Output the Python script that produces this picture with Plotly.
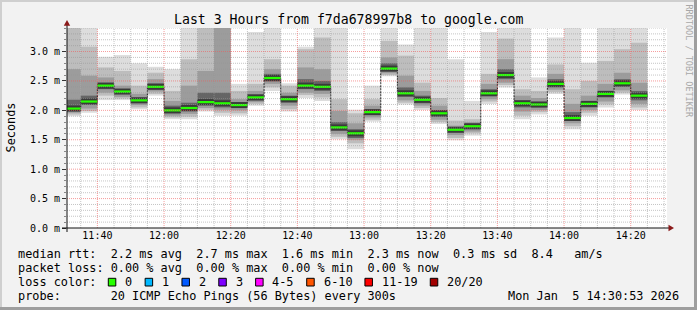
import plotly.graph_objects as go
import pandas as pd

# ---------------- data ----------------
bar_start = [pd.Timestamp("2026-01-05 11:30:00") + pd.Timedelta(minutes=5 * i) for i in range(35)]
median = [2.03, 2.15, 2.42, 2.32, 2.17, 2.40, 2.00, 2.04, 2.14, 2.12,
          2.09, 2.22, 2.55, 2.19, 2.42, 2.40, 1.71, 1.61, 1.97, 2.71,
          2.29, 2.18, 1.95, 1.67, 1.73, 2.29, 2.60, 2.12, 2.10, 2.45,
          1.87, 2.11, 2.28, 2.46, 2.25]
ping_min = [1.90, 1.96, 2.175, 2.175, 2.02, 2.25, 1.85, 1.85, 1.98, 1.91,
            1.91, 2.08, 2.33, 1.98, 2.21, 2.16, 1.51, 1.34, 1.81, 2.58,
            2.10, 2.005, 1.77, 1.49, 1.57, 2.11, 2.39, 1.85, 1.93, 2.28,
            1.68, 1.91, 2.05, 2.27, 2.005]
ping_max = [3.6, 3.6, 2.91, 2.94, 2.80, 2.74, 2.70, 3.6, 3.6, 3.6,
            2.45, 3.33, 3.6, 2.46, 3.08, 3.6, 3.6, 2.01, 2.42, 3.6,
            3.12, 3.6, 3.6, 2.87, 2.16, 3.33, 3.6, 3.6, 2.56, 3.24,
            3.6, 2.81, 3.6, 3.6, 3.6]
band2_lo = [1.93, 1.99, 2.25, 2.20, 2.05, 2.28, 1.88, 1.89, 2.01, 1.96,
            1.95, 2.11, 2.39, 2.02, 2.26, 2.22, 1.55, 1.44, 1.84, 2.60,
            2.13, 2.04, 1.80, 1.53, 1.61, 2.15, 2.43, 1.91, 1.97, 2.31,
            1.73, 1.96, 2.10, 2.30, 2.05]
band2_hi = [3.5, 3.08, 2.73, 2.67, 2.42, 2.64, 2.33, 2.87, 3.5, 3.5,
            2.33, 2.45, 2.87, 2.42, 3.04, 3.24, 2.19, 1.95, 2.19, 3.18,
            2.93, 2.47, 2.21, 1.825, 1.85, 2.62, 3.22, 2.36, 2.33, 2.78,
            2.36, 2.50, 2.84, 3.04, 3.15]
band3_lo = [1.96, 2.03, 2.30, 2.23, 2.09, 2.32, 1.91, 1.94, 2.04, 2.01,
            2.00, 2.14, 2.45, 2.08, 2.30, 2.28, 1.60, 1.50, 1.88, 2.63,
            2.17, 2.08, 1.84, 1.58, 1.64, 2.19, 2.47, 1.98, 2.005, 2.35,
            1.78, 2.005, 2.15, 2.34, 2.11]
band3_hi = [2.70, 2.59, 2.56, 2.42, 2.28, 2.53, 2.16, 2.42, 2.67, 3.5,
            2.19, 2.33, 2.70, 2.30, 2.73, 2.70, 1.99, 1.78, 2.08, 2.90,
            2.59, 2.33, 2.08, 1.74, 1.80, 2.45, 2.87, 2.25, 2.21, 2.62,
            2.11, 2.25, 2.45, 2.64, 2.47]
band4_lo = [2.00, 2.10, 2.36, 2.28, 2.13, 2.36, 1.95, 1.98, 2.08, 2.05,
            2.05, 2.17, 2.49, 2.13, 2.36, 2.33, 1.65, 1.53, 1.92, 2.66,
            2.23, 2.12, 1.89, 1.63, 1.68, 2.25, 2.53, 2.05, 2.05, 2.39,
            1.82, 2.05, 2.22, 2.40, 2.17]
band4_hi = [2.18, 2.25, 2.47, 2.36, 2.22, 2.46, 2.08, 2.13, 2.30, 2.30,
            2.13, 2.27, 2.62, 2.25, 2.53, 2.50, 1.80, 1.68, 2.01, 2.80,
            2.39, 2.25, 2.005, 1.70, 1.77, 2.36, 2.70, 2.17, 2.14, 2.53,
            1.97, 2.15, 2.33, 2.53, 2.33]
y_tick_vals = [0.0, 0.5, 1.0, 1.5, 2.0, 2.5, 3.0]
y_tick_text = ["0.0 m", "0.5 m", "1.0 m", "1.5 m", "2.0 m", "2.5 m", "3.0 m"]
loss_labels = ["0", "1", "2", "3", "4-5", "6-10", "11-19", "20/20"]
loss_colors = ["#26ff00", "#00b8ff", "#0059ff", "#7e00ff", "#ff00ff", "#ff5500", "#ff0000", "#a10000"]
legend_lines = [
    "median rtt:  2.2 ms avg  2.7 ms max  1.6 ms min  2.3 ms now  0.3 ms sd  8.4   am/s",
    "packet loss: 0.00 % avg  0.00 % max  0.00 % min  0.00 % now",
]
probe_text = "probe:       20 ICMP Echo Pings (56 Bytes) every 300s"
date_text = "Mon Jan  5 14:30:53 2026"
title_text = "Last 3 Hours from f7da678997b8 to google.com"

# ---------------- geometry helpers ----------------
W, H = 697, 310
PL, PT, PW, PH = 67, 28, 600, 200
YMAX = 3.4
t_start = pd.Timestamp("2026-01-05 11:30:53")
t_end = pd.Timestamp("2026-01-05 14:30:53")
STEP = pd.Timedelta(minutes=5)


def px(x):
    return (x - PL) / PW


def py(y):
    return (PT + PH - y) / PH


def nb(s):
    return s.replace(" ", "\u00a0")


def iso(t):
    return t.strftime("%Y-%m-%d %H:%M:%S")


FONT = "DejaVu Sans Mono"
fig = go.Figure()

centers = [iso(t + STEP / 2) for t in bar_start]
band_specs = [(ping_min, ping_max, "#dddddd"), (band2_lo, band2_hi, "#bdbdbd"),
              (band3_lo, band3_hi, "#9c9c9c"), (band4_lo, band4_hi, "#656565")]
for lo, hi, col in band_specs:
    fig.add_trace(go.Bar(x=centers, y=[h - l for l, h in zip(lo, hi)], base=lo,
                         width=STEP.total_seconds() * 1000,
                         marker=dict(color=col, line=dict(width=0)),
                         hoverinfo="skip", showlegend=False))

# dark step line of the median
step_x = [iso(t) for t in bar_start] + [iso(bar_start[-1] + STEP)]
step_y = median + [median[-1]]
fig.add_trace(go.Scatter(x=step_x, y=step_y, mode="lines",
                         line=dict(color="#202020", width=1, shape="hv", dash="2px,1px"),
                         hoverinfo="skip", showlegend=False))

# green median bands (with a thin dark core band around them)
dx, dy = [], []
for t, m in zip(bar_start, median):
    dx += [iso(t), iso(t + STEP), None]
    dy += [m, m, None]
fig.add_trace(go.Scatter(x=dx, y=dy, mode="lines", line=dict(color="#3a3a3a", width=6),
                         hoverinfo="skip", showlegend=False))
fig.add_trace(go.Scatter(x=dx, y=dy, mode="lines", line=dict(color=loss_colors[0], width=2.2),
                         hoverinfo="skip", showlegend=False))

# grid on top
minor_x, major_x = [], []
t = pd.Timestamp("2026-01-05 11:35:00")
while t <= t_end:
    (major_x if t.minute % 20 == 0 else minor_x).append(t)
    t += STEP
minor_y = [round(0.1 * i, 1) for i in range(1, 35) if i % 5 != 0]
major_y = [0.5 * i for i in range(1, 7)]


def grid_trace(xs, ys, color):
    gxx, gyy = [], []
    for v in xs:
        gxx += [iso(v), iso(v), None]
        gyy += [0, YMAX, None]
    for v in ys:
        gxx += [iso(t_start), iso(t_end), None]
        gyy += [v, v, None]
    return go.Scatter(x=gxx, y=gyy, mode="lines", line=dict(color=color, width=1, dash="1px,1px"),
                      hoverinfo="skip", showlegend=False)


fig.add_trace(grid_trace(minor_x, minor_y, "rgba(150,150,150,0.55)"))
fig.add_trace(grid_trace(major_x, major_y, "rgba(240,90,90,0.6)"))

shapes = []
# border shading
shapes.append(dict(type="rect", xref="paper", yref="paper", x0=px(0), x1=px(W), y0=py(0), y1=py(2),
                   fillcolor="#cfcfcf", line=dict(width=0), layer="below"))
shapes.append(dict(type="rect", xref="paper", yref="paper", x0=px(0), x1=px(2), y0=py(0), y1=py(H),
                   fillcolor="#cfcfcf", line=dict(width=0), layer="below"))
shapes.append(dict(type="rect", xref="paper", yref="paper", x0=px(W - 3), x1=px(W), y0=py(0), y1=py(H),
                   fillcolor="#9e9e9e", line=dict(width=0), layer="below"))
shapes.append(dict(type="rect", xref="paper", yref="paper", x0=px(0), x1=px(W), y0=py(H - 3), y1=py(H),
                   fillcolor="#9e9e9e", line=dict(width=0), layer="below"))
# axes
shapes.append(dict(type="line", xref="paper", yref="paper", x0=px(62), x1=px(670), y0=py(228), y1=py(228),
                   line=dict(color="#111111", width=1)))
shapes.append(dict(type="line", xref="paper", yref="paper", x0=px(67), x1=px(67), y0=py(232), y1=py(24),
                   line=dict(color="#111111", width=1)))
# arrows
shapes.append(dict(type="path", xref="paper", yref="paper",
                   path=f"M {px(63.8)},{py(25.8)} L {px(70.2)},{py(25.8)} L {px(67)},{py(20)} Z",
                   fillcolor="#8b1a1a", line=dict(width=0)))
shapes.append(dict(type="path", xref="paper", yref="paper",
                   path=f"M {px(668.5)},{py(224.8)} L {px(668.5)},{py(231.2)} L {px(674)},{py(228)} Z",
                   fillcolor="#8b1a1a", line=dict(width=0)))

annotations = []
annotations.append(dict(text=nb(title_text), x=px(348), y=py(19), xref="paper", yref="paper",
                        xanchor="center", yanchor="middle", showarrow=False,
                        font=dict(family=FONT, size=13.2, color="#000")))
annotations.append(dict(text="Seconds", x=px(10.5), y=py(128), xref="paper", yref="paper",
                        xanchor="center", yanchor="middle", showarrow=False, textangle=-90,
                        font=dict(family=FONT, size=11.85, color="#000")))
annotations.append(dict(text=nb("RRDTOOL / TOBI OETIKER"), x=px(688.5), y=py(61), xref="paper", yref="paper",
                        xanchor="center", yanchor="middle", showarrow=False, textangle=90,
                        font=dict(family=FONT, size=8.5, color="#a8a8a8")))
LEG_X = 16
CW = 7.13
line_y = [254.3, 268.0, 282.2, 296.0]
for txt, yy in zip(legend_lines, line_y[:2]):
    annotations.append(dict(text=nb(txt), x=px(LEG_X), y=py(yy), xref="paper", yref="paper",
                            xanchor="left", yanchor="middle", showarrow=False,
                            font=dict(family=FONT, size=11.85, color="#000")))
annotations.append(dict(text=nb("loss color:"), x=px(LEG_X), y=py(line_y[2]), xref="paper", yref="paper",
                        xanchor="left", yanchor="middle", showarrow=False,
                        font=dict(family=FONT, size=11.85, color="#000")))
bx = 108.3
for lab, col in zip(loss_labels, loss_colors):
    shapes.append(dict(type="rect", xref="paper", yref="paper", x0=px(bx), x1=px(bx + 7.5),
                       y0=py(286), y1=py(278.3), fillcolor=col, line=dict(color="#000", width=1)))
    tx = bx + 14.8
    annotations.append(dict(text=nb(lab), x=px(tx), y=py(line_y[2]), xref="paper", yref="paper",
                            xanchor="left", yanchor="middle", showarrow=False,
                            font=dict(family=FONT, size=11.85, color="#000")))
    bx = tx + len(lab) * CW + 14.9
annotations.append(dict(text=nb(probe_text), x=px(LEG_X), y=py(line_y[3]), xref="paper", yref="paper",
                        xanchor="left", yanchor="middle", showarrow=False,
                        font=dict(family=FONT, size=11.85, color="#000")))
annotations.append(dict(text=nb(date_text), x=px(681), y=py(line_y[3]), xref="paper", yref="paper",
                        xanchor="right", yanchor="middle", showarrow=False,
                        font=dict(family=FONT, size=11.85, color="#000")))

fig.update_layout(
    width=W, height=H,
    margin=dict(l=PL, r=W - PL - PW, t=PT, b=H - PT - PH, pad=0),
    paper_bgcolor="#f2f2f2", plot_bgcolor="#ffffff",
    barmode="overlay", showlegend=False,
    font=dict(family=FONT, color="#000"),
    shapes=shapes, annotations=annotations,
    xaxis=dict(type="date", range=[iso(t_start), iso(t_end)], showgrid=False, zeroline=False,
               showline=False, tickformat="%H:%M", tick0="2026-01-05 11:40:00", dtick=20 * 60 * 1000,
               ticks="", tickfont=dict(family=FONT, size=10, color="#000"), fixedrange=True),
    yaxis=dict(range=[0, YMAX], tickvals=y_tick_vals, ticktext=y_tick_text, showgrid=False,
               zeroline=False, showline=False, ticks="outside", ticklen=4, tickcolor="#333",
               tickfont=dict(family=FONT, size=10, color="#000"),
               minor=dict(dtick=0.1, ticks="outside", ticklen=2, tickcolor="#888"), fixedrange=True),
)

fig.write_html("out.html")
